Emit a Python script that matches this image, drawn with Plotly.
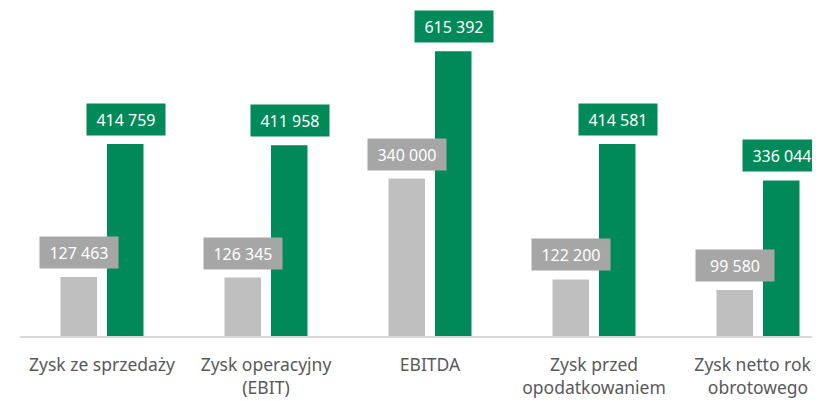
import plotly.graph_objects as go

categories = ["Zysk ze sprzedaży", "Zysk operacyjny<br>(EBIT)", "EBITDA",
              "Zysk przed<br>opodatkowaniem", "Zysk netto roku<br>obrotowego"]
prev_values = [127463, 126345, 340000, 122200, 99580]
curr_values = [414759, 411958, 615392, 414581, 336044]

GRAY = "#BFBFBF"
GRAY_LABEL = "#A6A6A6"
GREEN = "#008A5A"
FONT = "Noto Sans"


def fmt(v):
    return f"{v:,}".replace(",", " ")


fig = go.Figure()
fig.add_trace(go.Bar(x=categories, y=prev_values, marker_color=GRAY,
                     marker_line_width=0, offsetgroup=0))
fig.add_trace(go.Bar(x=categories, y=curr_values, marker_color=GREEN,
                     marker_line_width=0, offsetgroup=1))

# value boxes above each bar
for cat, v in zip(categories, prev_values):
    fig.add_annotation(x=cat, y=v, text=fmt(v), showarrow=False, xshift=-23.5,
                       yanchor="bottom", yshift=8, bgcolor=GRAY_LABEL,
                       width=68, height=21, borderpad=5,
                       font=dict(family=FONT, size=16, color="white"))
for cat, v in zip(categories, curr_values):
    fig.add_annotation(x=cat, y=v, text=fmt(v), showarrow=False, xshift=23.5,
                       yanchor="bottom", yshift=8, bgcolor=GREEN,
                       width=68, height=21, borderpad=5,
                       font=dict(family=FONT, size=16, color="white"))

fig.update_layout(
    width=820, height=401,
    margin=dict(l=12, r=8, t=0, b=73),
    barmode="group", bargap=0.433, bargroupgap=0.215,
    plot_bgcolor="white", paper_bgcolor="white",
    showlegend=False,
    font=dict(family=FONT, size=17, color="#595959"),
)
fig.update_xaxes(range=[-0.5, 4.378], showline=True, linecolor="#D9D9D9",
                 linewidth=2, ticks="", showgrid=False, ticklabelstandoff=12,
                 tickfont=dict(family=FONT, size=17.5, color="#595959"))
fig.update_yaxes(range=[0, 708560], visible=False, showgrid=False)

fig.write_html("out.html")
